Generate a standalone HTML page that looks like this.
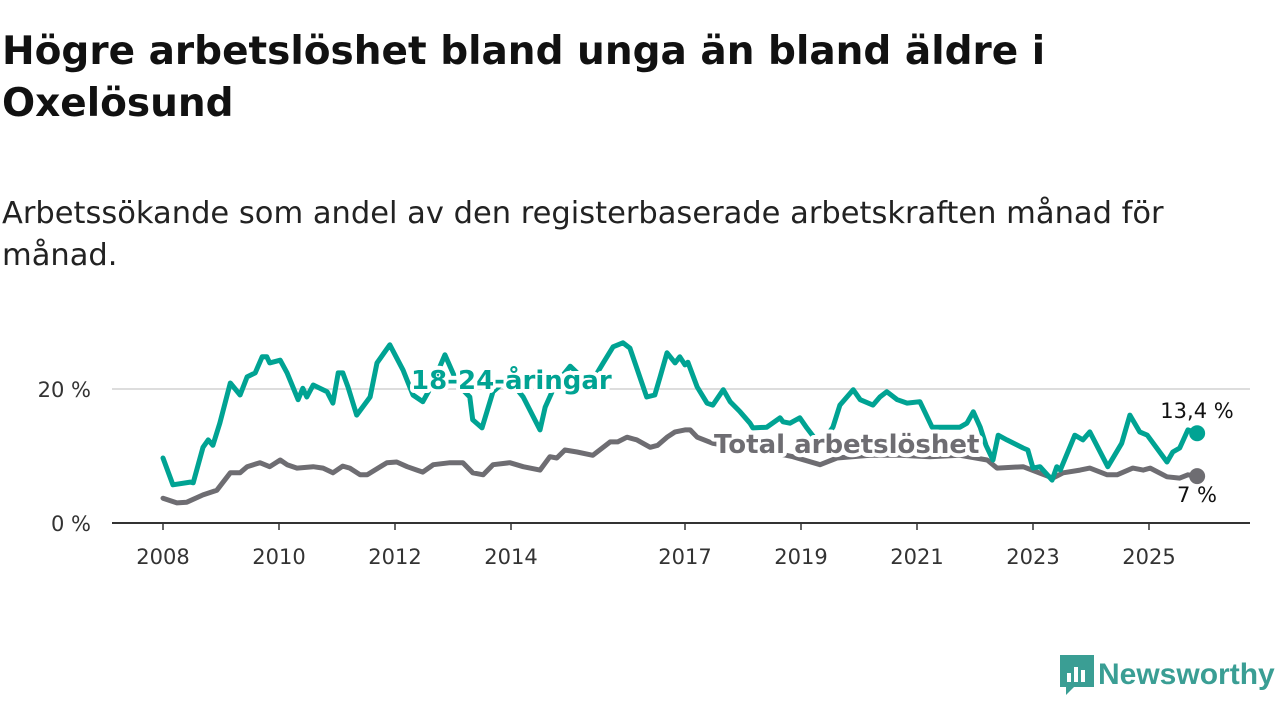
<!DOCTYPE html>
<html><head><meta charset="utf-8"><style>
body{margin:0;width:1280px;height:720px;background:#fff;overflow:hidden;font-family:"DejaVu Sans",sans-serif;position:relative}
.t{position:absolute;left:2px;top:26px;font-size:39px;font-weight:bold;color:#111;line-height:52px;margin:0}
.s{position:absolute;left:2px;top:193px;font-size:30.5px;color:#222;line-height:42px;margin:0}
svg{position:absolute;left:0;top:0}
</style></head><body>
<h1 class="t">Högre arbetslöshet bland unga än bland äldre i<br>Oxelösund</h1>
<p class="s">Arbetssökande som andel av den registerbaserade arbetskraften månad för<br>månad.</p>
<svg width="1280" height="720" id="c"></svg>
<script>
const yearTicks=[2008,2010,2012,2014,2017,2019,2021,2023,2025];
const valueTicks=[0,20];
const youthYears=[2008.00,2008.17,2008.47,2008.52,2008.69,2008.78,2008.86,2008.98,2009.16,2009.33,2009.45,2009.59,2009.71,2009.79,2009.84,2010.02,2010.14,2010.33,2010.41,2010.48,2010.59,2010.83,2010.93,2011.02,2011.10,2011.19,2011.34,2011.57,2011.69,2011.91,2012.14,2012.31,2012.48,2012.64,2012.86,2013.09,2013.29,2013.34,2013.50,2013.69,2013.95,2014.21,2014.50,2014.59,2014.76,2015.02,2015.36,2015.59,2015.76,2015.93,2016.05,2016.34,2016.48,2016.57,2016.69,2016.83,2016.91,2017.00,2017.05,2017.21,2017.38,2017.48,2017.66,2017.78,2017.95,2018.12,2018.17,2018.41,2018.64,2018.69,2018.81,2018.98,2019.10,2019.33,2019.55,2019.67,2019.90,2020.02,2020.24,2020.36,2020.48,2020.66,2020.83,2021.05,2021.26,2021.52,2021.74,2021.86,2021.97,2022.09,2022.19,2022.31,2022.40,2022.55,2022.83,2022.91,2023.00,2023.12,2023.33,2023.41,2023.47,2023.72,2023.86,2023.98,2024.29,2024.53,2024.67,2024.84,2024.97,2025.31,2025.41,2025.53,2025.67,2025.83];
const youthValues=[9.7,5.7,6.1,6.0,11.3,12.4,11.6,14.9,20.9,19.1,21.8,22.4,24.8,24.8,23.9,24.3,22.4,18.4,20.1,18.8,20.6,19.6,17.9,22.4,22.4,20.3,16.1,18.8,23.9,26.6,22.8,19.1,18.1,20.6,25.1,20.6,18.8,15.4,14.2,19.6,21.6,18.8,13.9,17.3,20.6,23.4,20.6,23.9,26.3,26.9,26.1,18.8,19.1,21.8,25.4,23.9,24.8,23.6,24.0,20.3,17.9,17.6,19.9,18.1,16.6,14.9,14.2,14.3,15.7,15.1,14.9,15.7,14.2,11.6,14.3,17.6,19.9,18.4,17.6,18.8,19.6,18.4,17.9,18.1,14.3,14.3,14.3,14.9,16.6,14.3,11.6,9.4,13.1,12.4,11.2,10.9,8.2,8.4,6.4,8.4,7.9,13.1,12.4,13.6,8.4,11.9,16.1,13.6,13.1,9.1,10.6,11.2,13.9,13.4];
const totalYears=[2008.00,2008.24,2008.41,2008.69,2008.93,2009.16,2009.33,2009.45,2009.67,2009.84,2010.02,2010.14,2010.31,2010.59,2010.76,2010.93,2011.10,2011.22,2011.40,2011.52,2011.86,2012.03,2012.21,2012.38,2012.48,2012.66,2012.95,2013.17,2013.34,2013.52,2013.69,2013.98,2014.21,2014.50,2014.67,2014.79,2014.93,2015.14,2015.41,2015.71,2015.84,2016.00,2016.17,2016.40,2016.53,2016.69,2016.83,2017.00,2017.09,2017.21,2017.48,2017.95,2018.47,2018.86,2019.33,2019.62,2020.19,2020.71,2021.22,2021.74,2022.21,2022.38,2022.83,2023.07,2023.34,2023.52,2023.81,2023.98,2024.28,2024.45,2024.72,2024.90,2025.02,2025.31,2025.53,2025.67,2025.83];
const totalValues=[3.7,3.0,3.1,4.2,4.9,7.5,7.5,8.4,9.0,8.4,9.4,8.7,8.2,8.4,8.2,7.5,8.5,8.2,7.2,7.2,9.0,9.1,8.4,7.9,7.6,8.7,9.0,9.0,7.5,7.2,8.7,9.0,8.4,7.9,9.9,9.7,10.9,10.6,10.1,12.1,12.1,12.8,12.4,11.3,11.6,12.8,13.6,13.9,13.9,12.8,11.9,11.2,10.6,9.9,8.7,9.7,10.1,10.1,9.9,10.1,9.4,8.2,8.4,7.6,6.7,7.5,7.9,8.2,7.2,7.2,8.2,7.9,8.2,6.9,6.7,7.2,7.0];
const youthLast="13,4 %", totalLast="7 %";

const NS="http://www.w3.org/2000/svg", svg=document.getElementById('c');
const X=y=>163+(y-2008)*58, Y=v=>523-v*6.7;
function mk(t,a,p){const e=document.createElementNS(NS,t);for(const k in a)e.setAttribute(k,a[k]);(p||svg).appendChild(e);return e;}
valueTicks.forEach(v=>{
 if(v>0){const g=mk('line',{x1:112,x2:1250,y1:Y(v),y2:Y(v),stroke:'#ddd','stroke-width':2});
 
 }
 const t=mk('text',{x:91,y:Y(v)+8,'text-anchor':'end','font-size':21,fill:'#333'});t.textContent=v+' %';
 
 
});
const ax=mk('line',{x1:112,x2:1250,y1:523,y2:523,stroke:'#333','stroke-width':2});


yearTicks.forEach(y=>{
 mk('line',{x1:X(y),x2:X(y),y1:523,y2:530,stroke:'#333','stroke-width':1.5});
 const t=mk('text',{x:X(y),y:564,'text-anchor':'middle','font-size':21,fill:'#333'});t.textContent=y;
 
 
});
function line(xs,vs,col,name){
 const p=mk('path',{d:xs.map((x,i)=>(i?'L':'M')+X(x).toFixed(1)+','+Y(vs[i]).toFixed(1)).join(''),fill:'none',stroke:col,'stroke-width':5,'stroke-linejoin':'round','stroke-linecap':'round'});
 
 
 const n=xs.length-1;
 const c=mk('circle',{cx:X(xs[n]),cy:Y(vs[n]),r:8,fill:col});
 
 
}
line(totalYears,totalValues,'#6e6d72','total-line');
line(youthYears,youthValues,'#00a393','youth-line');
function lab(x,y,s,col,name,sz,bold,anchor){
 const t=mk('text',{x:x,y:y,'font-size':sz,'font-weight':bold?'bold':'normal',fill:col,stroke:'#fff','stroke-width':bold?8:4,'paint-order':'stroke','stroke-linejoin':'round','text-anchor':anchor||'start'});
 t.textContent=s;
 
 
}
lab(411,389,'18-24-åringar','#00a393','youth-series-label',26,true);
lab(714,453,'Total arbetslöshet','#6e6d72','total-series-label',26,true);
lab(1197,418,youthLast,'#111','youth-last-value',21,false,'middle');
lab(1197,502,totalLast,'#111','total-last-value',21,false,'middle');
</script>
<div style="position:absolute;left:1060px;top:655px;display:flex;align-items:center">
<svg width="34" height="40" style="position:static" viewBox="0 0 34 40"><path d="M0 0H34V32H14L6 40V32H0Z" fill="#3a9e94"/><rect x="7" y="18" width="4" height="9" fill="#fff"/><rect x="14" y="12" width="4" height="15" fill="#fff"/><rect x="21" y="15" width="4" height="12" fill="#fff"/></svg>
<span style="font-family:'Liberation Sans',sans-serif;font-size:30px;color:#3a9e94;margin-left:4px;font-weight:bold">Newsworthy</span>
</div>
</body></html>
